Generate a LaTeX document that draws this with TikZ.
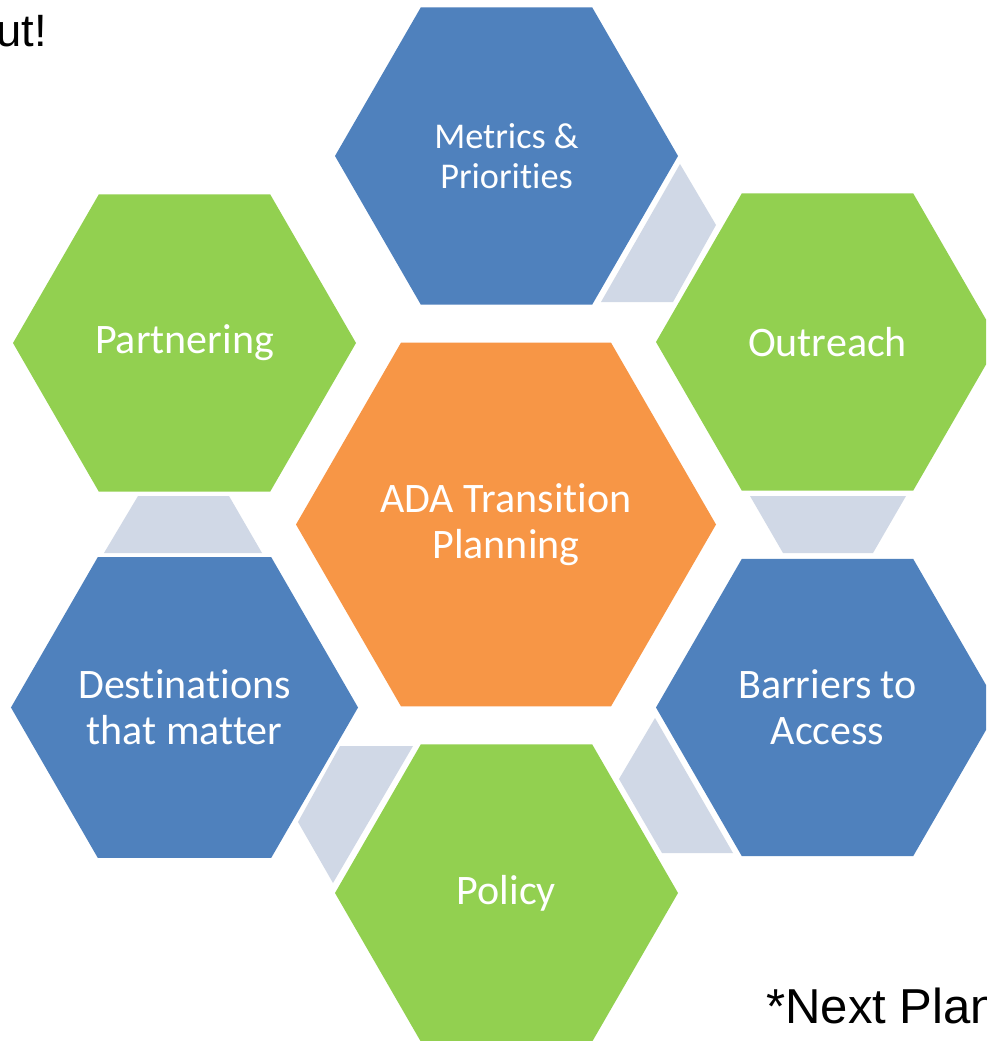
\documentclass[tikz,border=0pt]{standalone}
\usepackage{fontspec}
\setmainfont{Carlito}[Ligatures=NoCommon]
\newfontfamily\arialf{Liberation Sans}
\usetikzlibrary{shapes.geometric}
\definecolor{hexblue}{RGB}{79,129,189}
\definecolor{hexgreen}{RGB}{146,208,80}
\definecolor{hexorange}{RGB}{247,150,70}
\definecolor{linkgray}{RGB}{208,216,230}
\begin{document}
\begin{tikzpicture}[x=0.75pt,y=-0.75pt,
  hexa/.style={regular polygon, regular polygon sides=6, inner sep=0pt, outer sep=0pt,
    draw=none, text=white, align=center, font=\fontsize{31.5}{34.5}\selectfont,
    minimum size=257.25pt},
  bighexa/.style={hexa, minimum size=315pt},
  link/.style={fill=linkgray, draw=none},
  blacktext/.style={inner sep=0pt, text=black}]
\useasboundingbox (0,0) rectangle (986,1041);
\fill[white] (0,0) rectangle (986,1041);
\clip (0,0) rectangle (986,1041);

% connectors
\fill[link] (680,164) -- (716,225) -- (673,302) -- (601,302) -- cycle;
\fill[link] (750,496) -- (906,496) -- (873,553) -- (783,553) -- cycle;
\fill[link] (655,718) -- (733,853) -- (662,853) -- (619,779) -- cycle;
\fill[link] (340,746) -- (413,746) -- (333,883) -- (298,822) -- cycle;
\fill[link] (138,496) -- (229,496) -- (262,553) -- (104,553) -- cycle;

% hexagons
\node[hexa, fill=hexblue, font=\fontsize{27.2}{29.5}\selectfont]  (metrics) at (506.5,156)  {Metrics \&\\Priorities};
\node[hexa, fill=hexgreen] (outreach) at (827.5,342) {Outreach};
\node[hexa, fill=hexblue]  (barriers) at (827.5,707.5) {Barriers to\\Access};
\node[hexa, fill=hexgreen] (policy) at (506.5,893) {Policy};
\node[hexa, fill=hexblue]  (dest) at (184.5,707.5) {Destinations\\that matter};
\node[hexa, fill=hexgreen] (partner) at (184.5,343) {Partnering};
\node[bighexa, fill=hexorange] (ada) at (506,524.5) {ADA Transition\\Planning};

% page texts
\node[blacktext, anchor=base west, font=\arialf\fontsize{34}{40}\selectfont] (ut) at (-4,47) {ut!};
\node[blacktext, anchor=base west, font=\arialf\fontsize{36.8}{44}\selectfont] (next) at (766,1023) {*Next Plan};
\end{tikzpicture}
\end{document}
